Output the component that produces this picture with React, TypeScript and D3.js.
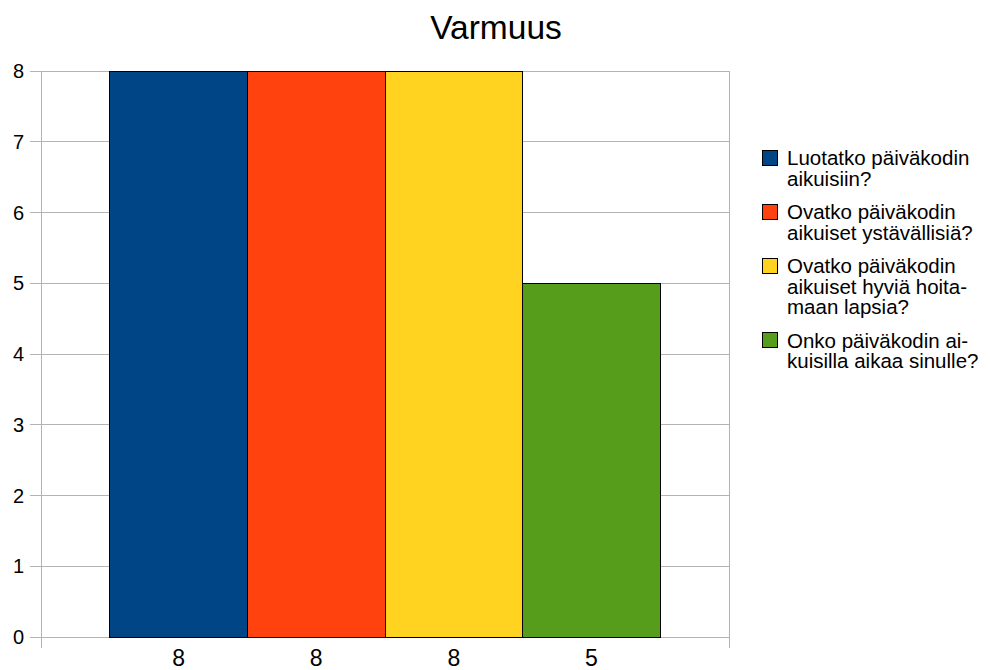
import React from "react";
import * as d3 from "d3";

const TITLE = "Varmuus";
const seriesNames: string[][] = [
  ["Luotatko päiväkodin", "aikuisiin?"],
  ["Ovatko päiväkodin", "aikuiset ystävällisiä?"],
  ["Ovatko päiväkodin", "aikuiset hyviä hoita-", "maan lapsia?"],
  ["Onko päiväkodin ai-", "kuisilla aikaa sinulle?"],
];
const seriesValues = [8, 8, 8, 5];
const seriesColors = ["#004586", "#ff420e", "#ffd320", "#579d1c"];
const yTicks = [0, 1, 2, 3, 4, 5, 6, 7, 8];

const W = 990;
const H = 670;
const plot = { left: 41, right: 729, top: 71, bottom: 637 };
const FONT = "'Liberation Sans', Arial, sans-serif";

export default function App() {
  const y = d3.scaleLinear().domain([0, 8]).range([plot.bottom, plot.top]);
  const outer = d3.scaleBand<string>().domain(["c"]).range([plot.left, plot.right]).paddingInner(0).paddingOuter(0.125);
  const inner = d3
    .scaleBand<number>()
    .domain(seriesValues.map((_, i) => i))
    .range([outer("c")!, outer("c")! + outer.bandwidth()]);

  const legendX = 762;
  const legendTop = 150;
  const lineH = 20.5;
  const itemGap = 13;
  let cursor = legendTop;
  const legendItems = seriesNames.map((lines, i) => {
    const top = cursor;
    cursor += lines.length * lineH + itemGap;
    return { lines, top, color: seriesColors[i] };
  });

  return (
    <svg width={W} height={H} style={{ position: "absolute", left: 0, top: 0, background: "#fff" }} fontFamily={FONT}>
      <rect x={0} y={0} width={W} height={H} fill="#fff" />
      <text x={496} y={39} textAnchor="middle" fontSize={33.5} fill="#000">
        {TITLE}
      </text>
      {/* gridlines and y ticks */}
      {yTicks.map((t) => (
        <g key={t}>
          <line x1={30} x2={plot.right} y1={y(t)} y2={y(t)} stroke="#b3b3b3" strokeWidth={1} shapeRendering="crispEdges" />
          <text x={24} y={y(t)} dy="0.35em" textAnchor="end" fontSize={20} fill="#000">
            {t}
          </text>
        </g>
      ))}
      {/* vertical axis lines */}
      <line x1={plot.left} x2={plot.left} y1={plot.top} y2={plot.bottom + 11} stroke="#b3b3b3" strokeWidth={1} shapeRendering="crispEdges" />
      <line x1={plot.right} x2={plot.right} y1={plot.top} y2={plot.bottom + 11} stroke="#b3b3b3" strokeWidth={1} shapeRendering="crispEdges" />
      {/* bars */}
      {seriesValues.map((v, i) => (
        <rect
          key={i}
          x={inner(i)!}
          y={y(v)}
          width={inner.bandwidth()}
          height={y(0) - y(v)}
          fill={seriesColors[i]}
          stroke="#000"
          strokeWidth={1}
          shapeRendering="crispEdges"
        />
      ))}
      {/* value labels */}
      {seriesValues.map((v, i) => (
        <text key={i} x={inner(i)! + inner.bandwidth() / 2} y={666} textAnchor="middle" fontSize={23} fill="#000">
          {v}
        </text>
      ))}
      {/* legend */}
      {legendItems.map((it, i) => (
        <g key={i}>
          <rect x={legendX} y={it.top} width={15} height={15} fill={it.color} stroke="#000" strokeWidth={1} shapeRendering="crispEdges" />
          {it.lines.map((l, j) => (
            <text key={j} x={legendX + 25} y={it.top + 15 + j * lineH} fontSize={20.5} fill="#000">
              {l}
            </text>
          ))}
        </g>
      ))}
    </svg>
  );
}
